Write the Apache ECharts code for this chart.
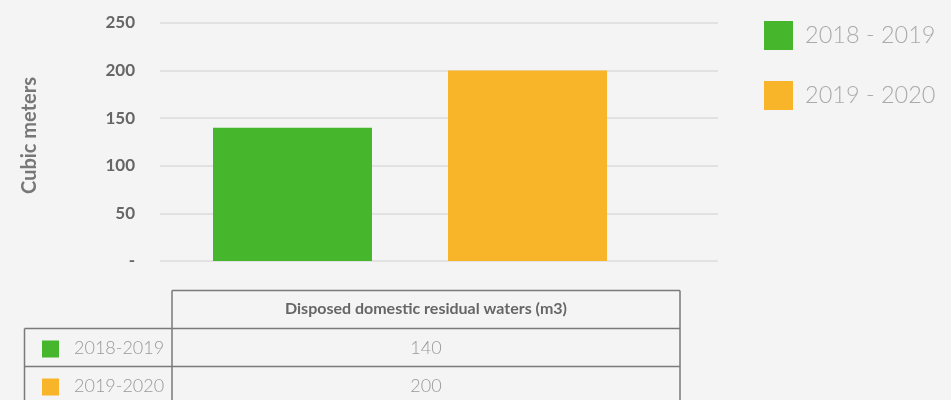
<!DOCTYPE html>
<html>
<head>
<meta charset="utf-8">
<script src="https://cdn.jsdelivr.net/npm/echarts@6/dist/echarts.min.js"></script>
<style>
  html, body { margin: 0; padding: 0; background: #f4f4f4; }
  #chart { width: 951px; height: 400px; }
</style>
</head>
<body>
<div id="chart"></div>
<script>
// data
const periods = ['2018 - 2019', '2019 - 2020'];
const tableLabels = ['2018-2019', '2019-2020'];
const waterValues = [140, 200];
const columnTitle = 'Disposed domestic residual waters (m3)';
const yTicks = [0, 50, 100, 150, 200, 250];
const colors = ['#46b62c', '#f9b52a'];

const chart = echarts.init(document.getElementById('chart'));

// table under the chart
const lineStyle = { stroke: '#7a7a7a', lineWidth: 1.5 };
const table = [];
const hLine = (x1, y, x2) => ({ type: 'line', shape: { x1: x1, y1: y, x2: x2, y2: y }, style: lineStyle });
const vLine = (x, y1, y2) => ({ type: 'line', shape: { x1: x, y1: y1, x2: x, y2: y2 }, style: lineStyle });
table.push(hLine(172, 290.5, 680));
table.push(vLine(172, 290.5, 410));
table.push(vLine(680, 290.5, 410));
table.push(vLine(24.5, 328.5, 410));
table.push({
  type: 'text', x: 426, y: 309,
  style: { text: columnTitle, fill: '#666', font: 'bold 16px Lato', align: 'center', verticalAlign: 'middle' }
});
tableLabels.forEach((label, i) => {
  const top = 328.5 + i * 38;
  table.push(hLine(24.5, top, 680));
  table.push({ type: 'rect', shape: { x: 42, y: top + 12, width: 17, height: 17 }, style: { fill: colors[i] } });
  table.push({
    type: 'text', x: 74, y: top + 20,
    style: { text: label, fill: '#999', font: '300 18px Lato', align: 'left', verticalAlign: 'middle' }
  });
  table.push({
    type: 'text', x: 426, y: top + 20,
    style: { text: String(waterValues[i]), fill: '#999', font: '300 18px Lato', align: 'center', verticalAlign: 'middle' }
  });
});

const option = {
  backgroundColor: '#f4f4f4',
  textStyle: { fontFamily: 'Lato' },
  color: colors,
  animation: false,
  legend: {
    orient: 'vertical',
    left: 759,
    top: 16,
    itemWidth: 29,
    itemHeight: 29,
    itemGap: 31,
    icon: 'rect',
    data: periods,
    textStyle: { fontSize: 23.5, color: '#aaa', fontWeight: 300, fontFamily: 'Lato', padding: [0, 0, 0, 7] }
  },
  grid: [
    { left: 160, right: 233, top: 23, height: 238 },
    { left: 175, width: 470, top: 23, height: 238 }
  ],
  xAxis: [
    { type: 'category', gridIndex: 0, data: [''], show: false },
    { type: 'category', gridIndex: 1, data: tableLabels, show: false }
  ],
  yAxis: [
    {
      type: 'value',
      gridIndex: 0,
      min: yTicks[0],
      max: yTicks[yTicks.length - 1],
      interval: 50,
      name: 'Cubic meters',
      nameLocation: 'middle',
      nameGap: 120,
      nameTextStyle: { fontSize: 20, color: '#777', fontWeight: 'bold', fontFamily: 'Lato', padding: [0, 0, 0, 13] },
      axisLine: { show: false },
      axisTick: { show: false },
      axisLabel: {
        margin: 25,
        fontSize: 17,
        fontWeight: 'bold',
        color: '#666',
        fontFamily: 'Lato',
        formatter: v => (v === 0 ? '-' : String(v))
      },
      splitLine: { lineStyle: { color: '#dcdcdc', width: 1.5 } }
    },
    {
      type: 'value',
      gridIndex: 1,
      min: yTicks[0],
      max: yTicks[yTicks.length - 1],
      show: false,
      splitLine: { show: false }
    }
  ],
  series: periods.map((name, i) => ({
    name: name,
    type: 'bar',
    xAxisIndex: 1,
    yAxisIndex: 1,
    barWidth: 159,
    barGap: '-100%',
    data: waterValues.map((v, j) => (j === i ? v : '-'))
  })),
  graphic: table
};

chart.setOption(option);
</script>
</body>
</html>
